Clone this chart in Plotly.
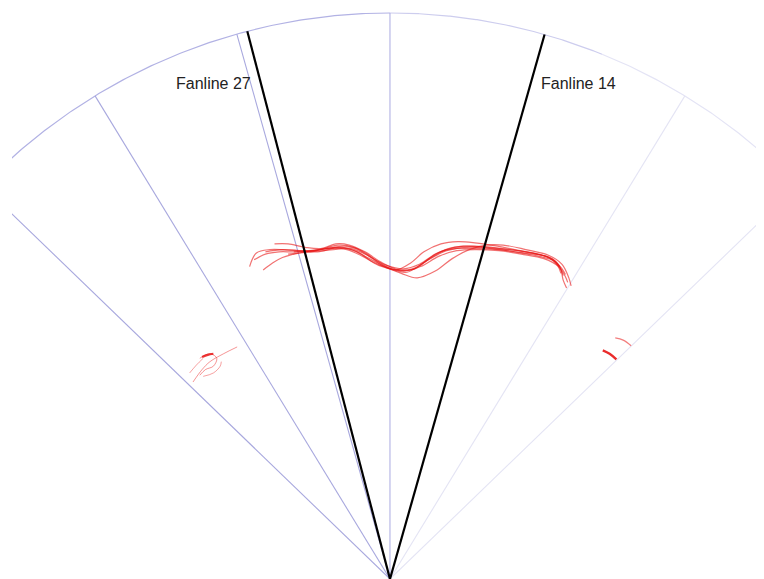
import numpy as np
import plotly.graph_objects as go

# ---- data (metres: across-track, range from transducer) ----
max_range = 50.0
grid_angles_left = [-46.0, -31.4, -15.7]
grid_angles_right = [31.4, 46.0]
center_angle = [0.0]
fanline_angles = [-14.6, 15.85]
fanline_labels = ["Fanline 27", "Fanline 14"]
label_pos_x = [-12.1, 13.2]
label_pos_y = [43.8, 43.8]

ping_across = [
    [-12.4, -11.8, -10.6, -8.2, -6.4, -4.4, -2.9, -1.5, 0.0, 1.5, 2.9, 4.2, 5.9, 7.1, 9.5, 11.8, 14.1, 15.0, 15.3, 15.6],
    [-11.0, -9.5, -7.5, -5.5, -4.0, -2.5, -1.0, 0.5, 1.8, 3.0, 4.5, 6.0, 7.5, 9.5, 11.5, 13.5, 14.6, 15.1, 15.3],
    [-9.0, -7.0, -5.0, -3.5, -2.0, -0.5, 1.0, 2.4, 4.0, 5.5, 7.0, 8.5, 10.0, 12.0, 14.0, 15.2, 15.8, 16.0],
    [-11.2, -10.4, -9.5, -8.0, -6.2, -4.6, -3.2, -1.8, -0.3, 1.2, 2.6, 4.0, 5.6, 7.5, 9.8, 12.0, 14.0, 14.8, 15.1],
    [-10.2, -9.0, -7.5, -6.0, -4.8, -3.6, -2.2, -0.8, 0.8, 2.2, 3.5, 5.0, 6.5, 8.5, 10.5, 12.5, 14.3, 15.0],
    [-12.0, -11.0, -9.8, -8.5, -7.0, -5.2, -3.8, -2.4, -1.0, 0.6, 2.0, 3.4, 5.0, 6.8, 8.8, 11.0, 13.2, 14.5, 15.2, 15.5],
    [-8.5, -6.5, -4.9, -3.4, -2.0, -0.4, 1.2, 2.7, 4.3, 5.9, 7.6, 9.6, 11.6, 13.6, 14.9, 15.5, 15.7],
]
ping_range = [
    [27.6, 28.8, 29.1, 29.0, 28.9, 29.3, 28.9, 28.0, 27.4, 27.1, 27.9, 28.8, 29.2, 29.2, 29.1, 28.8, 28.4, 27.6, 26.4, 25.7],
    [28.9, 29.1, 29.0, 29.2, 29.4, 29.0, 28.0, 27.3, 27.9, 28.9, 29.6, 29.8, 29.7, 29.4, 29.0, 28.6, 28.0, 27.3, 26.8],
    [28.7, 28.9, 29.1, 29.2, 28.6, 27.6, 27.0, 26.6, 27.2, 28.3, 29.1, 29.5, 29.5, 29.1, 28.6, 27.8, 26.6, 25.9],
    [27.3, 27.9, 28.4, 28.8, 29.1, 29.5, 29.3, 28.5, 27.7, 27.4, 27.8, 28.7, 29.3, 29.4, 29.2, 28.9, 28.4, 27.7, 27.0],
    [29.6, 29.6, 29.3, 29.2, 29.6, 29.5, 28.9, 28.0, 27.3, 27.4, 28.3, 29.1, 29.4, 29.3, 29.1, 28.8, 28.3, 27.6],
    [28.2, 28.7, 28.9, 28.9, 29.0, 29.2, 29.1, 28.5, 27.7, 27.3, 27.4, 28.2, 29.0, 29.3, 29.2, 28.9, 28.5, 28.1, 27.4, 26.9],
    [28.9, 29.0, 29.3, 29.1, 28.4, 27.6, 27.2, 27.6, 28.5, 29.0, 29.1, 29.0, 28.7, 28.3, 27.6, 26.7, 26.2],
]

target_across = [
    [-17.4, -16.6, -15.9, -14.7, -13.5],
    [-16.8, -15.9, -15.3, -15.6, -16.3, -16.8],
    [-16.5, -15.6, -15.0, -14.9],
    [-17.7, -17.1, -16.5],
    [-16.6, -16.1, -15.6],
    [18.8, 19.4, 20.0],
    [19.9, 20.6, 21.3],
]
target_range = [
    [17.4, 18.5, 19.2, 19.9, 20.5],
    [19.5, 19.9, 19.5, 18.8, 18.5, 18.0],
    [17.9, 18.2, 18.8, 19.2],
    [18.2, 18.9, 19.5],
    [19.6, 19.8, 19.9],
    [20.2, 19.9, 19.4],
    [21.3, 21.1, 20.6],
]
target_width = [1, 1, 1, 1, 2.2, 2.4, 1.2]
target_alpha = [0.45, 0.45, 0.4, 0.4, 0.85, 0.9, 0.55]

fig = go.Figure()

def ray_to_arc(angle, color, width):
    a = np.radians(angle)
    fig.add_trace(go.Scatter(
        x=[0, max_range * np.sin(a)], y=[0, max_range * np.cos(a)],
        mode="lines", line=dict(color=color, width=width),
        hoverinfo="skip", showlegend=False))

# arc in segments fading left to right
arc_segments = [(-70, 0, "rgb(178,178,228)"), (0, 22, "rgb(205,205,238)"), (22, 70, "rgb(228,228,245)")]
for a0, a1, c in arc_segments:
    t = np.radians(np.linspace(a0, a1, 200))
    fig.add_trace(go.Scatter(x=max_range * np.sin(t), y=max_range * np.cos(t), mode="lines",
                             line=dict(color=c, width=1.2), hoverinfo="skip", showlegend=False))

for ang in grid_angles_left:
    ray_to_arc(ang, "rgb(168,168,222)", 1.1)
for ang in grid_angles_right:
    ray_to_arc(ang, "rgb(228,228,244)", 1.1)
for ang in center_angle:
    ray_to_arc(ang, "rgb(170,170,225)", 1)

for xs, ys in zip(ping_across, ping_range):
    fig.add_trace(go.Scatter(x=xs, y=ys, mode="lines", line=dict(color="rgba(232,20,20,0.6)", width=1.2, shape="spline"),
                             hoverinfo="skip", showlegend=False))

for xs, ys, w, al in zip(target_across, target_range, target_width, target_alpha):
    fig.add_trace(go.Scatter(x=xs, y=ys, mode="lines", line=dict(color=f"rgba(232,20,20,{al})", width=w, shape="spline"),
                             hoverinfo="skip", showlegend=False))

for ang in fanline_angles:
    ray_to_arc(ang, "black", 2.2)

for lx, ly, lab, anc in zip(label_pos_x, label_pos_y, fanline_labels, ["right", "left"]):
    fig.add_annotation(x=lx, y=ly, text=lab, showarrow=False, xanchor=anc, yanchor="middle",
                       font=dict(family="Liberation Sans, Arial", size=16, color="#222"))

# page body has an 8px margin: figure is offset by (8, 8)
fig.update_layout(
    width=756, height=571, margin=dict(l=4, r=0, t=0, b=0),
    paper_bgcolor="white", plot_bgcolor="white",
    xaxis=dict(range=[-33.39, 33.04], visible=False, fixedrange=True),
    yaxis=dict(range=[0, 50.44], visible=False, fixedrange=True),
)
fig.write_html("out.html")
